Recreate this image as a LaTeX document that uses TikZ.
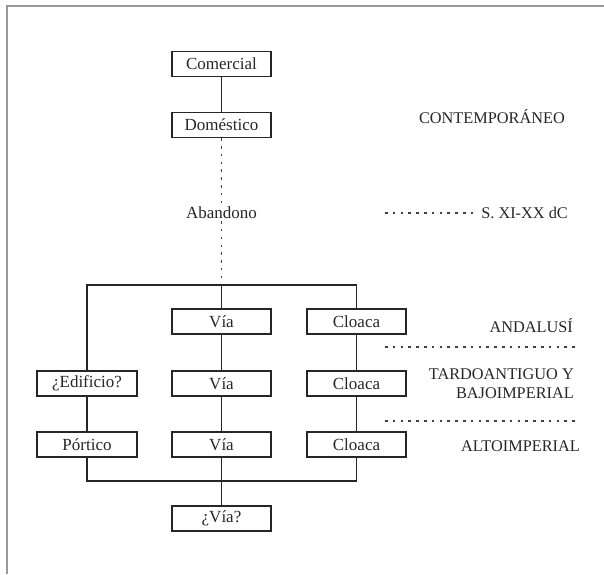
\documentclass[tikz,border=0pt]{standalone}
\usepackage{fontspec}
\setmainfont{Liberation Serif}
\begin{document}
\begin{tikzpicture}[x=1pt,y=-1pt,
  box/.style={draw=black!85, line width=1.4pt, minimum width=99pt, minimum height=25pt, inner sep=0pt, font=\fontsize{17}{19}\selectfont, text=black!85},
  lbl/.style={font=\fontsize{16.3}{19}\selectfont, text=black!85, inner sep=0pt},
  conn/.style={draw=black!85, line width=1.4pt},
  dotline/.style={draw=black!75, line width=1.4pt, dash pattern=on 2.5pt off 5.3pt},
  frame/.style={draw=black!40, line width=1.6pt}]
\useasboundingbox (0,0) rectangle (604,574);
\draw[frame] (7,574) -- (7,6) -- (604,6);

% nodes
\node[box] (com) at (221.5,64) {Comercial};
\node[box] (dom) at (221.5,125) {Doméstico};
\node[lbl, fill=white, inner sep=2pt, font=\fontsize{17}{19}\selectfont] (aband) at (221.5,213) {Abandono};
\node[box] (via1) at (221.5,321.5) {Vía};
\node[box] (clo1) at (356.5,321.5) {Cloaca};
\node[box, minimum width=100pt] (edi) at (87,383.5) {¿Edificio?};
\node[box] (via2) at (221.5,383.5) {Vía};
\node[box] (clo2) at (356.5,383.5) {Cloaca};
\node[box, minimum width=100pt] (por) at (87,444.5) {Pórtico};
\node[box] (via3) at (221.5,444.5) {Vía};
\node[box] (clo3) at (356.5,444.5) {Cloaca};
\node[box] (viaq) at (221.5,518.5) {¿Vía?};

% junction coordinates
\coordinate (tl) at (87,285);
\coordinate (tj) at (221.5,285);
\coordinate (tr) at (356.5,285);
\coordinate (bl) at (87,481);
\coordinate (bj) at (221.5,481);
\coordinate (br) at (356.5,481);

% connectors
\draw[conn] (com) -- (dom);
\draw[dotline] (dom.south) -- (aband.north);
\draw[dotline] (aband.south) -- (tj);
\draw[conn] (edi.north) -- (tl) -- (tr) -- (clo1.north);
\draw[conn] (tj) -- (via1.north);
\draw[conn] (via1) -- (via2);
\draw[conn] (via2) -- (via3);
\draw[conn] (clo1) -- (clo2);
\draw[conn] (clo2) -- (clo3);
\draw[conn] (edi) -- (por);
\draw[conn] (por.south) -- (bl) -- (br) -- (clo3.south);
\draw[conn] (via3.south) -- (viaq.north);

% period labels
\node[lbl, anchor=east] (contemp) at (565,117) {CONTEMPORÁNEO};
\node[lbl, anchor=east] (sxi) at (568,213) {S. XI-XX dC};
\coordinate (sxistart) at (385,213);
\draw[dotline] (sxistart) -- ([xshift=-6pt]sxi.west);
\node[lbl, anchor=east] (anda) at (573,326) {ANDALUSÍ};
\coordinate (d1a) at (385,347);
\coordinate (d1b) at (575,347);
\draw[dotline] (d1a) -- (d1b);
\node[lbl, anchor=east, align=right] (tardo) at (574,384) {TARDOANTIGUO Y\\BAJOIMPERIAL};
\coordinate (d2a) at (385,421);
\coordinate (d2b) at (575,421);
\draw[dotline] (d2a) -- (d2b);
\node[lbl, anchor=east] (alto) at (580,446) {ALTOIMPERIAL};
\end{tikzpicture}
\end{document}
